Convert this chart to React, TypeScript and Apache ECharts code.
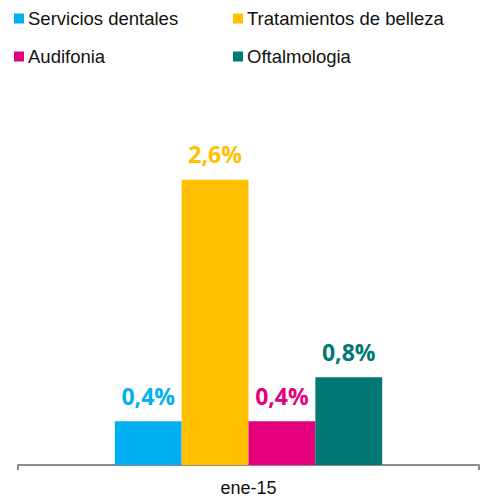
import React, { useEffect, useRef } from "react";
import * as echarts from "echarts";

const categories = ["ene-15"];
const seriesNames = ["Servicios dentales", "Tratamientos de belleza", "Audifonia", "Oftalmologia"];
const seriesValues = [[0.4], [2.6], [0.4], [0.8]];
const seriesColors = ["#00B0F0", "#FFC000", "#E4007C", "#007873"];

const legendPos = [
  { left: 14, top: 9 },
  { left: 233, top: 9 },
  { left: 14, top: 47 },
  { left: 233, top: 47 },
];

export default function App() {
  const ref = useRef<HTMLDivElement>(null);
  useEffect(() => {
    const chart = echarts.init(ref.current!, null, { renderer: "svg" });
    chart.setOption({
      animation: false,
      legend: seriesNames.map((n, i) => ({
        data: [n],
        left: legendPos[i].left,
        top: legendPos[i].top,
        padding: 0,
        icon: "rect",
        itemWidth: 10,
        itemHeight: 10,
        itemGap: 4,
        selectedMode: false,
        textStyle: { fontFamily: "Liberation Sans", fontSize: 18.5, color: "#111", padding: [0, 0, 0, -1] },
      })),
      grid: { left: 18, right: 3, top: 136, bottom: 35 },
      xAxis: {
        type: "category",
        data: categories,
        axisLine: { lineStyle: { color: "#8c8c8c", width: 2 } },
        axisTick: { show: true, length: 5, lineStyle: { color: "#8c8c8c", width: 2 } },
        axisLabel: { fontFamily: "Liberation Sans", fontSize: 18, color: "#111", margin: 14 },
      },
      yAxis: { type: "value", min: 0, max: 3, show: false, splitLine: { show: false } },
      series: seriesNames.map((n, i) => ({
        name: n,
        type: "bar",
        data: seriesValues[i],
        barGap: "0%",
        barCategoryGap: "42%",
        itemStyle: { color: seriesColors[i] },
        label: {
          show: true,
          position: "top",
          distance: 14,
          fontFamily: "Open Sans",
          fontWeight: "bold",
          fontSize: 23,
          color: seriesColors[i],
          formatter: (p: any) => String(p.value.toFixed(1)).replace(".", ",") + "%",
        },
      })),
    });
    return () => chart.dispose();
  }, []);
  return <div ref={ref} style={{ width: 482, height: 500, position: "absolute", left: 0, top: 0 }} />;
}
